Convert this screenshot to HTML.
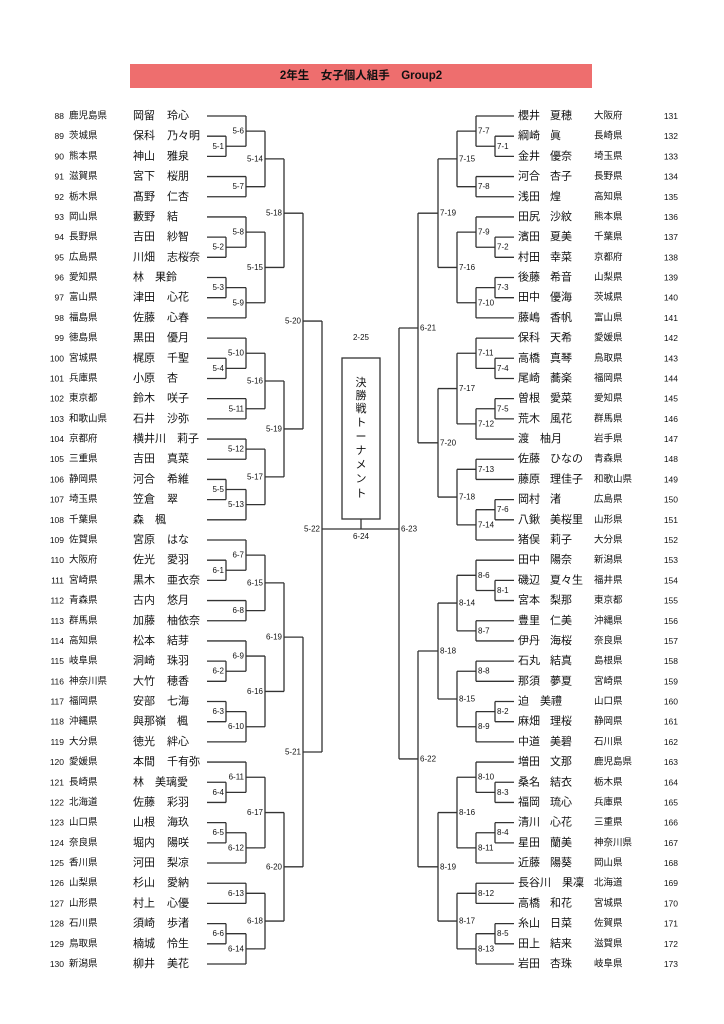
<!DOCTYPE html>
<html><head><meta charset="utf-8">
<style>
html,body{margin:0;padding:0;background:#fff;}
body{width:724px;height:1024px;overflow:hidden;position:relative;font-family:"Liberation Sans","Noto Sans CJK JP",sans-serif;}
#title{position:absolute;left:130px;top:64px;width:462px;height:24px;background:#ee6e6e;text-align:center;line-height:24px;font-size:11.5px;font-weight:bold;color:#111;}
svg{position:absolute;left:0;top:0;}
svg text{font-family:"Liberation Sans","Noto Sans CJK JP",sans-serif;fill:#111;}
</style></head><body>
<div id="title">2年生　女子個人組手　Group2</div>
<svg id="s" width="724" height="1024" xmlns="http://www.w3.org/2000/svg">
<rect x="342" y="358" width="38" height="161" fill="none" stroke="#333" stroke-width="1.3"/>
<line x1="361" y1="519" x2="361" y2="529" stroke="#333" stroke-width="1.3"/>
<text x="361" y="340" font-size="8" text-anchor="middle">2-25</text>
<text x="361" y="539" font-size="8" text-anchor="middle">6-24</text>
<g font-size="11" text-anchor="middle">
<text x="361" y="386">決</text><text x="361" y="399">勝</text><text x="361" y="412">戦</text>
<text x="361" y="426">ト</text><text x="361" y="440">ー</text><text x="361" y="454">ナ</text>
<text x="361" y="468">メ</text><text x="361" y="482">ン</text><text x="361" y="497">ト</text>
</g>
</svg>
<script>
var S=document.getElementById('s'),NS='http://www.w3.org/2000/svg';
function el(t,a,txt){var e=document.createElementNS(NS,t);for(var k in a)e.setAttribute(k,a[k]);if(txt!=null)e.textContent=txt;S.appendChild(e);return e;}
function ln(x1,y1,x2,y2){el('line',{x1:x1,y1:y1,x2:x2,y2:y2,stroke:'#333','stroke-width':1.3});}
function tx(x,y,s,fs,anc){el('text',{x:x,y:y,'font-size':fs,'text-anchor':anc||'start','dominant-baseline':'central'},s);}
function ry(i){return 116+i*20.19;}
var L=[["鹿児島県","岡留","玲心"],["茨城県","保科","乃々明"],["熊本県","神山","雅泉"],["滋賀県","宮下","桜朋"],["栃木県","髙野","仁杏"],["岡山県","藪野","結"],["長野県","吉田","紗智"],["広島県","川畑","志桜奈"],["愛知県","林　果鈴",""],["富山県","津田","心花"],["福島県","佐藤","心春"],["徳島県","黒田","優月"],["宮城県","梶原","千聖"],["兵庫県","小原","杏"],["東京都","鈴木","咲子"],["和歌山県","石井","沙弥"],["京都府","横井川　莉子",""],["三重県","吉田","真菜"],["静岡県","河合","希維"],["埼玉県","笠倉","翠"],["千葉県","森　楓",""],["佐賀県","宮原","はな"],["大阪府","佐光","愛羽"],["宮崎県","黒木","亜衣奈"],["青森県","古内","悠月"],["群馬県","加藤","柚依奈"],["高知県","松本","結芽"],["岐阜県","洞崎","珠羽"],["神奈川県","大竹","穂香"],["福岡県","安部","七海"],["沖縄県","與那嶺　楓",""],["大分県","徳光","絆心"],["愛媛県","本間","千有弥"],["長崎県","林　美璃愛",""],["北海道","佐藤","彩羽"],["山口県","山根","海玖"],["奈良県","堀内","陽咲"],["香川県","河田","梨凉"],["山梨県","杉山","愛納"],["山形県","村上","心優"],["石川県","須崎","歩渚"],["鳥取県","楠城","怜生"],["新潟県","柳井","美花"]];
var R=[["櫻井","夏穂","大阪府"],["綱崎","眞","長崎県"],["金井","優奈","埼玉県"],["河合","杏子","長野県"],["浅田","煌","高知県"],["田尻","沙紋","熊本県"],["濱田","夏美","千葉県"],["村田","幸菜","京都府"],["後藤","希音","山梨県"],["田中","優海","茨城県"],["藤嶋","香帆","富山県"],["保科","天希","愛媛県"],["高橋","真琴","鳥取県"],["尾崎","蕎楽","福岡県"],["曽根","愛菜","愛知県"],["荒木","風花","群馬県"],["渡　柚月","","岩手県"],["佐藤","ひなの","青森県"],["藤原","理佳子","和歌山県"],["岡村","渚","広島県"],["八鍬","美桜里","山形県"],["猪俣","莉子","大分県"],["田中","陽奈","新潟県"],["磯辺","夏々生","福井県"],["宮本","梨那","東京都"],["豊里","仁美","沖縄県"],["伊丹","海桜","奈良県"],["石丸","結真","島根県"],["那須","夢夏","宮崎県"],["迫　美禮","","山口県"],["麻畑","理桜","静岡県"],["中道","美碧","石川県"],["増田","文那","鹿児島県"],["桑名","結衣","栃木県"],["福岡","琉心","兵庫県"],["清川","心花","三重県"],["星田","蘭美","神奈川県"],["近藤","陽葵","岡山県"],["長谷川　果凜","","北海道"],["高橋","和花","宮城県"],["糸山","日菜","佐賀県"],["田上","結来","滋賀県"],["岩田","杏珠","岐阜県"]];
for(var i=0;i<43;i++){var y=ry(i);
 tx(64,y,String(88+i),8.5,'end');tx(69,y,L[i][0],9.5);tx(133,y,L[i][1],11);if(L[i][2])tx(167,y,L[i][2],11);
 tx(518,y,R[i][0],11);if(R[i][1])tx(550,y,R[i][1],11);tx(594,y,R[i][2],9.5);tx(678,y,String(131+i),8.5,'end');}
var XL=[0,226,246,265,284,303,322],XR=[0,495,476,457,438,418,399];
function draw(n,side){
 if(typeof n==='number')return ry(n);
 var X=side?XR:XL,x=X[n[1]],ys=[];
 for(var k=2;k<4;k++){var c=n[k],cy=draw(c,side),cx=(typeof c==='number')?(side?514:207):X[c[1]];ln(cx,cy,x,cy);ys.push(cy);}
 ln(x,ys[0],x,ys[1]);var m=(ys[0]+ys[1])/2;
 if(side)tx(x+2,m,n[0],8,'start');else tx(x-2,m,n[0],8,'end');
 return m;}
var l520=["5-20",5,["5-18",4,["5-14",3,["5-6",2,0,["5-1",1,1,2]],["5-7",2,3,4]],["5-15",3,["5-8",2,5,["5-2",1,6,7]],["5-9",2,["5-3",1,8,9],10]]],
 ["5-19",4,["5-16",3,["5-10",2,11,["5-4",1,12,13]],["5-11",2,14,15]],["5-17",3,["5-12",2,16,17],["5-13",2,["5-5",1,18,19],20]]]];
var l521=["5-21",5,["6-19",4,["6-15",3,["6-7",2,21,["6-1",1,22,23]],["6-8",2,24,25]],["6-16",3,["6-9",2,26,["6-2",1,27,28]],["6-10",2,["6-3",1,29,30],31]]],
 ["6-20",4,["6-17",3,["6-11",2,32,["6-4",1,33,34]],["6-12",2,["6-5",1,35,36],37]],["6-18",3,["6-13",2,38,39],["6-14",2,["6-6",1,40,41],42]]]];
var r621=["6-21",5,["7-19",4,["7-15",3,["7-7",2,0,["7-1",1,1,2]],["7-8",2,3,4]],["7-16",3,["7-9",2,5,["7-2",1,6,7]],["7-10",2,["7-3",1,8,9],10]]],
 ["7-20",4,["7-17",3,["7-11",2,11,["7-4",1,12,13]],["7-12",2,["7-5",1,14,15],16]],["7-18",3,["7-13",2,17,18],["7-14",2,["7-6",1,19,20],21]]]];
var r622=["6-22",5,["8-18",4,["8-14",3,["8-6",2,22,["8-1",1,23,24]],["8-7",2,25,26]],["8-15",3,["8-8",2,27,28],["8-9",2,["8-2",1,29,30],31]]],
 ["8-19",4,["8-16",3,["8-10",2,32,["8-3",1,33,34]],["8-11",2,["8-4",1,35,36],37]],["8-17",3,["8-12",2,38,39],["8-13",2,["8-5",1,40,41],42]]]];
var a=draw(l520,0),b=draw(l521,0),c=draw(r621,1),d=draw(r622,1);
ln(303,a,322,a);ln(303,b,322,b);ln(322,a,322,b);
ln(418,c,399,c);ln(418,d,399,d);ln(399,c,399,d);
ln(322,529,399,529);
tx(320,529,"5-22",8,'end');tx(401,529,"6-23",8,'start');
</script>
</body></html>
